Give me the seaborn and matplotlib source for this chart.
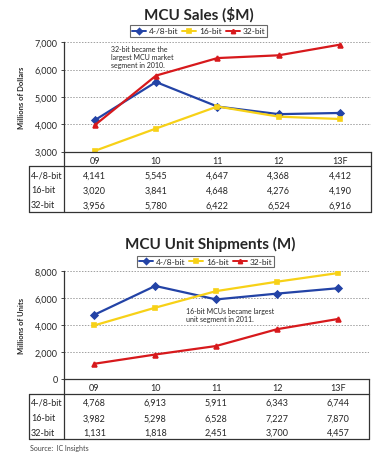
import pandas as pd
import matplotlib.pyplot as plt
import seaborn as sns
from matplotlib.lines import Line2D
from matplotlib.ticker import FuncFormatter

# Data
years = ['09', '10', '11', '12', '13F']
series = ['4-/8-bit', '16-bit', '32-bit']

sales_48 = [4141, 5545, 4647, 4368, 4412]
sales_16 = [3020, 3841, 4648, 4276, 4190]
sales_32 = [3956, 5780, 6422, 6524, 6916]

units_48 = [4768, 6913, 5911, 6343, 6744]
units_16 = [3982, 5298, 6528, 7227, 7870]
units_32 = [1131, 1818, 2451, 3700, 4457]

colors = {'4-/8-bit': '#2343A6', '16-bit': '#F7D117', '32-bit': '#D7191C'}
markers = ['D', 's', '^']

W, H = 386, 460

sns.set_style('white')
plt.rcParams['font.family'] = ['Lato', 'DejaVu Sans']

fig = plt.figure(figsize=(W / 100, H / 100), dpi=100)


def fx(px):
    return px / W


def fy(py):
    return 1 - py / H


def fline(x0, y0, x1, y1, lw=0.9, color='#333333'):
    fig.add_artist(Line2D([fx(x0), fx(x1)], [fy(y0), fy(y1)], color=color,
                          lw=lw, transform=fig.transFigure))


def make_panel(vals, title, ylabel, ylim, yticks, ax_top, ax_bot, ax_left, ax_right,
               title_xy, legend_xy, note, note_xy, row_ys, tab_top, tab_bot):
    df = pd.DataFrame({
        'year': years * 3,
        'value': vals[0] + vals[1] + vals[2],
        'series': [s for s in series for _ in years],
    })
    ax = fig.add_axes([fx(ax_left), fy(ax_bot), fx(ax_right) - fx(ax_left), fy(ax_top) - fy(ax_bot)])
    sns.pointplot(data=df, x='year', y='value', hue='series', palette=colors,
                  markers=markers, linestyles='-', errorbar=None, markersize=3.5,
                  linewidth=1.6, ax=ax)
    ax.set_xlim(-0.5, 4.5)
    ax.set_ylim(*ylim)
    ax.set_yticks(yticks)
    ax.yaxis.set_major_formatter(FuncFormatter(lambda v, p: f'{int(v):,}'))
    ax.tick_params(axis='y', labelsize=6.5, length=2.5, width=0.6, pad=2, left=True)
    ax.tick_params(axis='x', labelsize=6.5, length=0, pad=3)
    ax.set_xlabel('')
    ax.set_ylabel('')
    for t in yticks[1:]:
        ax.axhline(t, color='#A0A0A0', lw=0.7, ls=(0, (1.5, 1.5)), zorder=0)
    for s in ['top', 'right']:
        ax.spines[s].set_visible(False)
    for s in ['left', 'bottom']:
        ax.spines[s].set_color('#333333')
        ax.spines[s].set_linewidth(0.9)

    handles, labels = ax.get_legend_handles_labels()
    for h in handles:
        h.set_markersize(3)
        h.set_linewidth(1.4)
    leg = ax.legend(handles, labels, ncol=3, loc='center', fontsize=6,
                    bbox_to_anchor=(fx(legend_xy[0]), fy(legend_xy[1])),
                    bbox_transform=fig.transFigure, frameon=True, fancybox=False,
                    handlelength=1.7, handletextpad=0.3, columnspacing=0.5,
                    borderpad=0.25, edgecolor='#444444')
    leg.get_frame().set_linewidth(0.8)

    fig.text(fx(title_xy[0]), fy(title_xy[1]), title, ha='center', va='center',
             fontsize=11, fontweight='bold')
    fig.text(fx(22), fy((ax_top + ax_bot) / 2), ylabel, rotation=90, ha='center',
             va='center', fontsize=5.5, fontweight='bold')
    fig.text(fx(note_xy[0]), fy(note_xy[1]), note, ha='left', va='top',
             fontsize=5, linespacing=1.2)

    # data table under the axes
    fline(29, tab_top, ax_right, tab_top)
    fline(29, tab_bot, ax_right, tab_bot)
    fline(29, tab_top, 29, tab_bot)
    fline(ax_right, ax_bot, ax_right, tab_bot)
    fline(ax_left, ax_bot, ax_left, tab_bot)
    step = (ax_right - ax_left) / len(years)
    for name, row, ry in zip(series, vals, row_ys):
        fig.text(fx(31), fy(ry), name, ha='left', va='center', fontsize=6.5)
        for i, v in enumerate(row):
            fig.text(fx(ax_left + step * (i + 0.5)), fy(ry), f'{v:,}', ha='center',
                     va='center', fontsize=6.5)
    return ax


make_panel([sales_48, sales_16, sales_32], 'MCU Sales ($M)', 'Millions of Dollars',
           (3000, 7000), [3000, 4000, 5000, 6000, 7000],
           ax_top=43.3, ax_bot=152.5, ax_left=63.8, ax_right=371,
           title_xy=(199, 15), legend_xy=(198.5, 32),
           note='32-bit became the\nlargest MCU market\nsegment in 2010.', note_xy=(111, 46),
           row_ys=[176, 191, 206], tab_top=166.5, tab_bot=213)

make_panel([units_48, units_16, units_32], 'MCU Unit Shipments (M)', 'Millions of Units',
           (0, 8000), [0, 2000, 4000, 6000, 8000],
           ax_top=272.3, ax_bot=380, ax_left=63.8, ax_right=368.5,
           title_xy=(210, 244), legend_xy=(205.5, 262.5),
           note='16-bit MCUs became largest\nunit segment in 2011.', note_xy=(186, 308),
           row_ys=[403.5, 419, 433.5], tab_top=395, tab_bot=439.5)

fig.text(fx(30), fy(449), 'Source:  IC Insights', ha='left', va='center', fontsize=5,
         color='#444444')

fig.savefig('out.png', dpi=100)
